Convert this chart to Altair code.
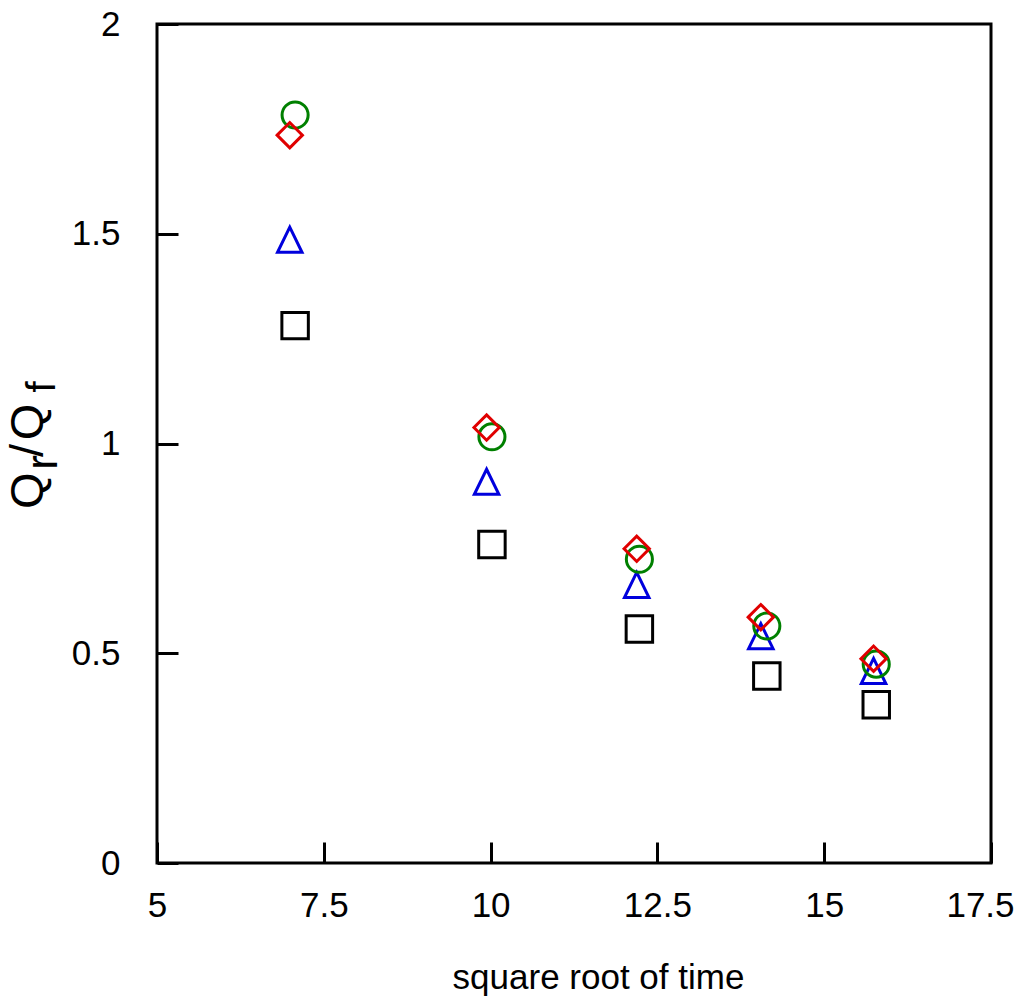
import altair as alt
import pandas as pd

# ---- data (x = square root of time, y = Qr/Qf) ----
x_circle = [7.07, 10.02, 12.23, 14.14, 15.78]
y_circle = [1.783, 1.016, 0.724, 0.565, 0.474]

x_diamond = [6.99, 9.94, 12.19, 14.05, 15.74]
y_diamond = [1.735, 1.038, 0.749, 0.586, 0.487]

x_triangle = [6.99, 9.94, 12.19, 14.05, 15.74]
y_triangle = [1.485, 0.908, 0.662, 0.540, 0.457]

x_square = [7.07, 10.02, 12.23, 14.14, 15.78]
y_square = [1.281, 0.759, 0.558, 0.446, 0.377]

x_ticks = [5, 7.5, 10, 12.5, 15, 17.5]
y_ticks = [0, 0.5, 1, 1.5, 2]

x_title = "square root of time"

FONT = "Liberation Sans"

x_enc = alt.X(
    "x:Q",
    scale=alt.Scale(domain=[5, 17.5], nice=False, zero=False),
    axis=alt.Axis(
        values=x_ticks, format=".3~g", title=x_title,
        offset=-21, tickSize=21, tickWidth=3, tickColor="black",
        domain=False, grid=False,
        labelFont=FONT, labelFontSize=35, labelColor="black",
        labelPadding=25, labelFlush=False, labelOverlap=False,
        labelOffset={"condition": {"test": "datum.value == 17.5", "value": -11}, "value": 0},
        titleFont=FONT, titleFontSize=35, titleFontWeight="normal",
        titleColor="black", titleX=441, titleY=146,
        titleBaseline="alphabetic", titleAlign="center",
    ),
)
y_enc = alt.Y(
    "y:Q",
    scale=alt.Scale(domain=[0, 2], nice=False, zero=False),
    axis=alt.Axis(
        values=y_ticks, format=".3~g", title="",
        offset=-21, tickSize=21, tickWidth=3, tickColor="black",
        domain=False, grid=False,
        labelFont=FONT, labelFontSize=35, labelColor="black",
        labelPadding=37, labelFlush=False, labelOverlap=False,
    ),
)


def series(xs, ys, shape, color, size):
    df = pd.DataFrame({"x": xs, "y": ys})
    return alt.Chart(df).mark_point(
        shape=shape, filled=False, color=color, size=size,
        strokeWidth=3, opacity=1,
    ).encode(x=x_enc, y=y_enc)


tri = series(x_triangle, y_triangle, "M0,-1.05L1,1L-1,1Z", "#0000dd", 600)
sq = series(x_square, y_square, "square", "#000000", 700)
circ = series(x_circle, y_circle, "circle", "#008000", 680)
dia = series(x_diamond, y_diamond, "diamond", "#e00000", 640)


def piece(txt, size, bx, ay):
    return alt.Chart(pd.DataFrame({"t": [txt]})).mark_text(
        angle=270, align="left", baseline="alphabetic",
        font=FONT, fontSize=size, color="black",
    ).encode(text="t:N", x=alt.value(bx), y=alt.value(ay))


ytitle = [
    piece("Q", 47, -114.4, 485),
    piece("r", 44, -100.3, 445.7),
    piece("/", 47, -114.5, 433),
    piece("Q", 47, -114.4, 416.3),
    piece("f", 40, -102, 368.5),
]

chart = alt.layer(tri, sq, circ, dia, *ytitle).properties(
    width=834, height=839,
    autosize=alt.AutoSizeParams(type="none"),
    padding={"left": 149, "top": 16, "right": 25, "bottom": 137},
).configure_view(stroke="black", strokeWidth=3)

chart.save("out.html", embed_options={"renderer": "svg", "actions": False})
